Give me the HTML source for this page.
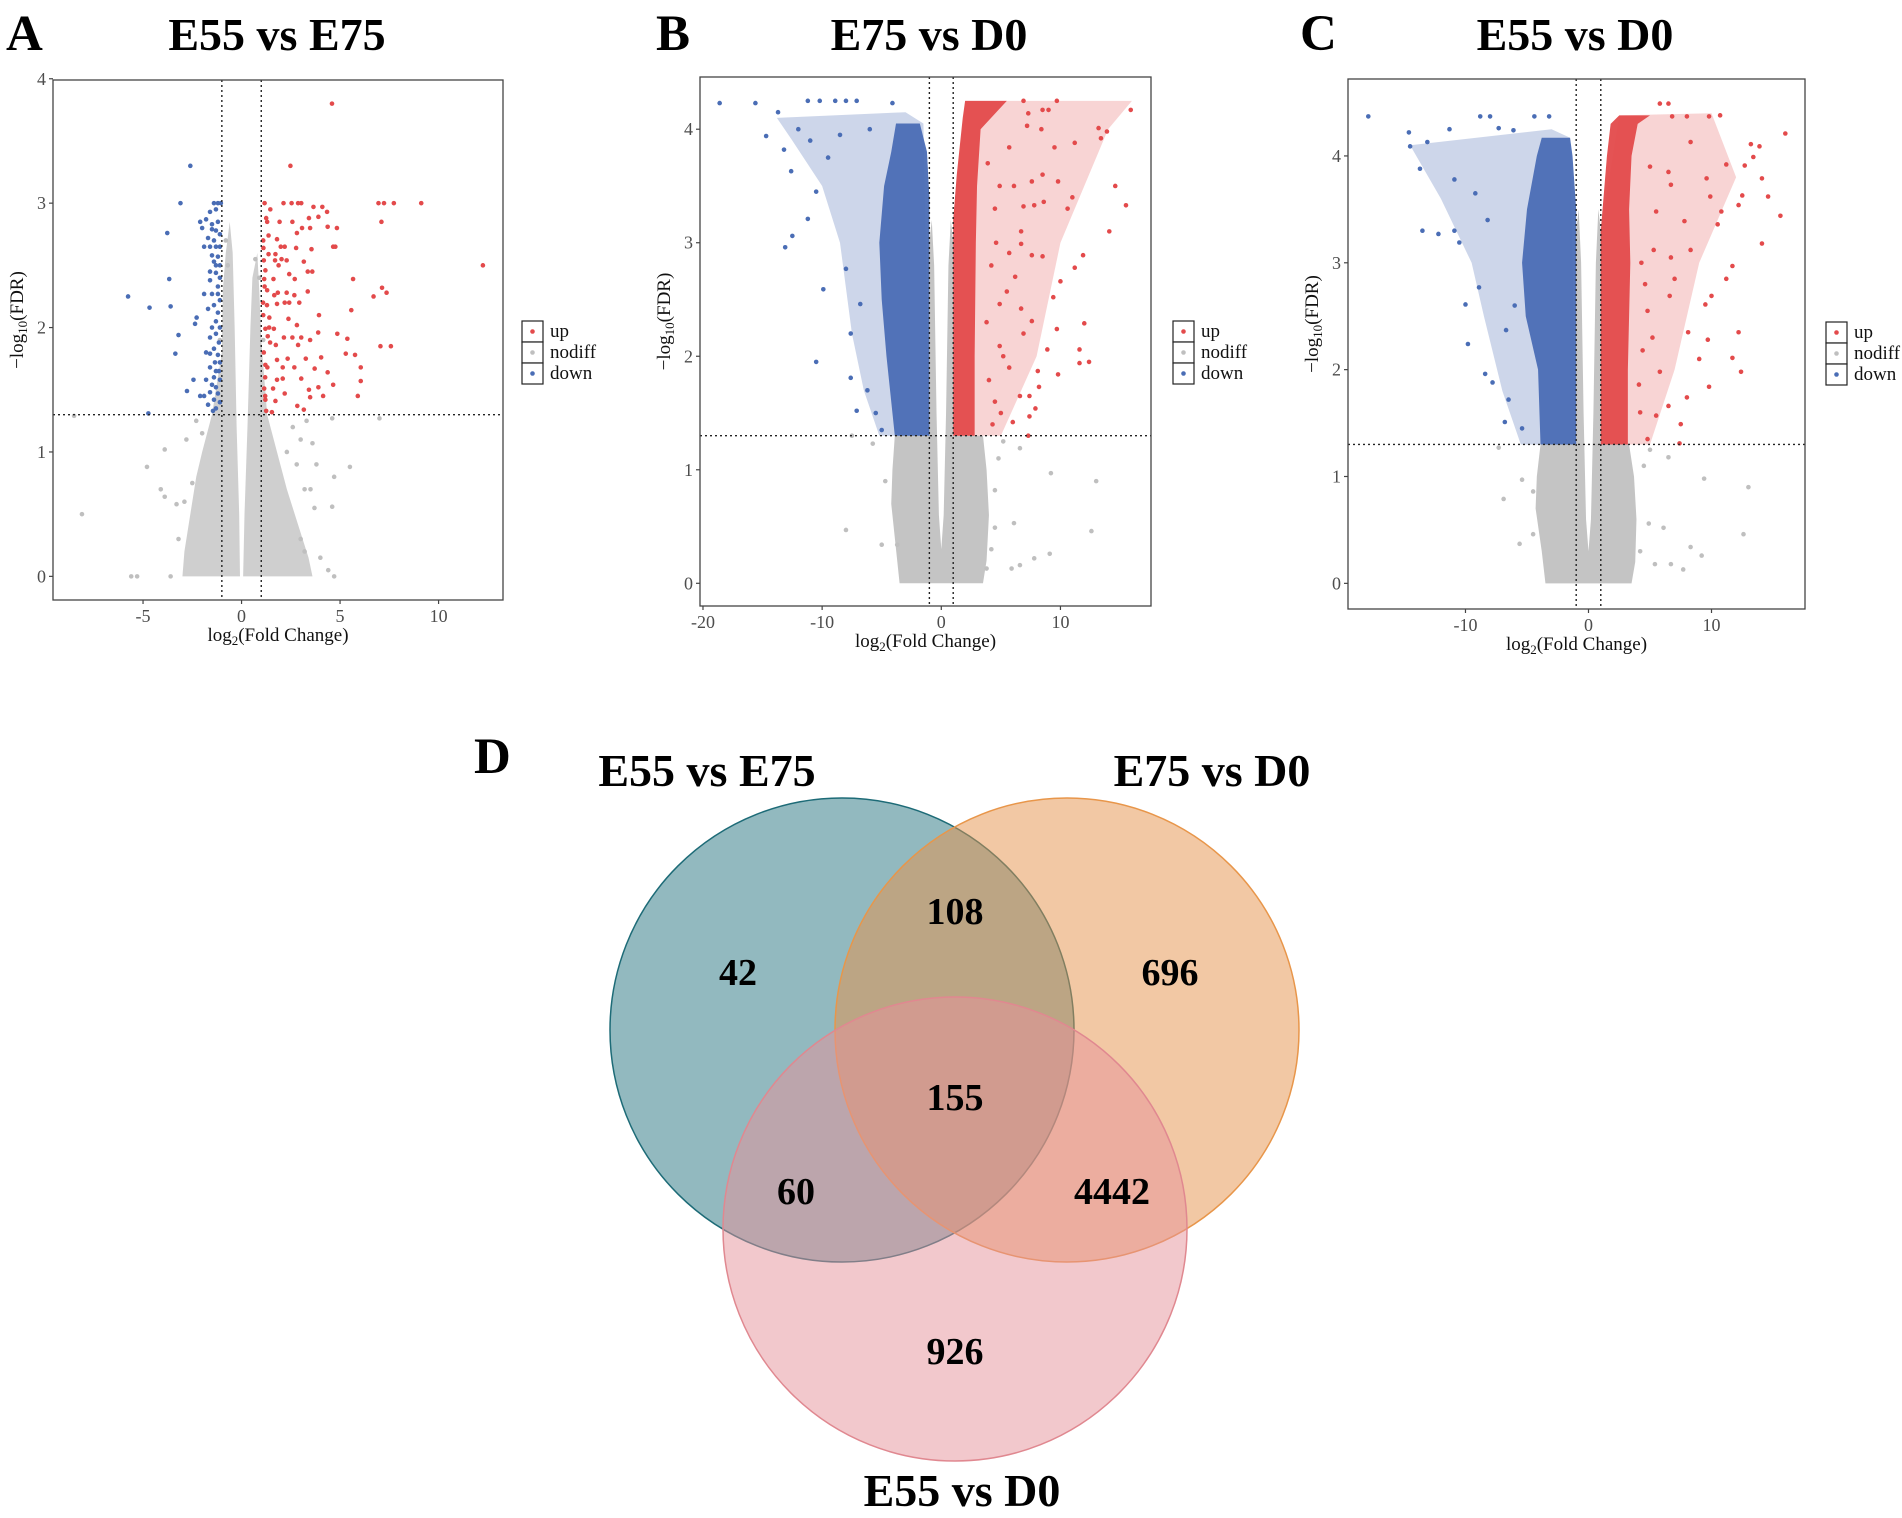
<!DOCTYPE html>
<html><head><meta charset="utf-8">
<style>
html,body{margin:0;padding:0;background:#fff;}
svg{display:block;font-family:"Liberation Serif",serif;}
</style></head>
<body>
<svg id="fig" width="1902" height="1518" viewBox="0 0 1902 1518" xmlns="http://www.w3.org/2000/svg">
<g id="venn"></g>
</svg>
<script>
// ===== Panel A data (E55 vs E75) =====
const aUp = [[4.59,3.80],[2.48,3.30],[1.17,3.0],[2.13,3.0],[2.54,3.0],[2.87,3.0],[3.03,3.0],[6.95,3.0],[7.23,3.0],[7.73,3.0],[9.12,3.0],[1.46,2.95],[3.65,2.97],[4.1,2.97],[4.34,2.93],[1.25,2.88],[3.42,2.88],[3.9,2.89],[1.93,2.85],[2.58,2.85],[7.1,2.85],[3.07,2.8],[3.48,2.8],[4.37,2.81],[4.84,2.8],[1.37,2.74],[2.81,2.76],[1.8,2.71],[1.11,2.64],[1.99,2.65],[2.19,2.65],[2.77,2.64],[3.55,2.63],[4.65,2.65],[4.76,2.65],[1.37,2.59],[1.72,2.59],[1.7,2.54],[2.03,2.55],[2.29,2.54],[3.16,2.53],[1.13,2.54],[1.21,2.46],[1.88,2.5],[2.42,2.43],[3.36,2.45],[3.59,2.45],[12.25,2.5],[1.15,2.39],[1.62,2.39],[2.7,2.39],[5.66,2.39],[1.17,2.33],[1.66,2.26],[1.84,2.28],[2.29,2.28],[2.68,2.26],[3.36,2.29],[7.13,2.32],[7.36,2.28],[6.7,2.25],[1.09,2.2],[1.29,2.18],[1.8,2.19],[2.19,2.2],[2.42,2.2],[2.93,2.2],[5.57,2.14],[1.41,2.08],[2.38,2.07],[3.93,2.1],[1.21,1.99],[1.64,1.99],[2.81,2.02],[1.33,1.93],[1.74,1.86],[2.15,1.92],[2.58,1.92],[3.03,1.92],[3.48,1.9],[3.89,1.96],[4.86,1.95],[5.37,1.91],[7.05,1.85],[7.58,1.85],[1.13,1.8],[1.8,1.74],[2.34,1.75],[2.87,1.86],[3.26,1.75],[4.04,1.76],[5.29,1.79],[5.76,1.78],[1.21,1.70],[1.31,1.68],[2.09,1.68],[2.68,1.68],[3.71,1.67],[6.05,1.68],[1.8,1.58],[2.09,1.59],[3.03,1.59],[4.37,1.64],[6.05,1.57],[1.15,1.51],[1.6,1.51],[2.19,1.47],[3.42,1.5],[3.9,1.52],[4.65,1.54],[1.21,1.42],[1.72,1.41],[2.83,1.37],[3.48,1.44],[4.14,1.45],[5.9,1.45],[1.25,1.33],[1.54,1.32],[3.16,1.34],[1.1,2.1],[1.3,2.3],[1.4,2.0],[1.2,1.6],[1.45,1.88],[1.1,2.7],[1.3,2.85],[1.2,1.45]];
const aDown = [[-2.6,3.3],[-3.1,3.0],[-3.77,2.76],[-3.67,2.39],[-5.76,2.25],[-4.67,2.16],[-3.6,2.17],[-2.28,2.08],[-2.36,2.03],[-3.2,1.94],[-3.36,1.79],[-2.44,1.58],[-2.77,1.49],[-4.73,1.31],[-1.4,3.0],[-1.2,3.0],[-1.05,3.0],[-1.3,2.95],[-1.6,2.93],[-2.1,2.85],[-1.8,2.87],[-1.5,2.83],[-1.2,2.85],[-2.0,2.8],[-1.5,2.79],[-1.3,2.78],[-1.1,2.75],[-1.7,2.72],[-1.4,2.7],[-1.9,2.65],[-1.6,2.65],[-1.3,2.65],[-1.1,2.65],[-1.5,2.58],[-1.2,2.57],[-1.4,2.53],[-1.3,2.5],[-1.1,2.5],[-1.6,2.45],[-1.3,2.44],[-1.1,2.4],[-1.6,2.38],[-1.2,2.33],[-1.9,2.27],[-1.5,2.27],[-1.2,2.27],[-1.1,2.22],[-1.4,2.18],[-1.7,2.15],[-1.2,2.12],[-1.3,2.05],[-1.5,2.0],[-1.1,2.0],[-1.3,1.95],[-1.6,1.92],[-1.15,1.88],[-1.4,1.83],[-1.8,1.8],[-1.6,1.79],[-1.2,1.78],[-1.35,1.72],[-1.1,1.72],[-1.6,1.68],[-1.3,1.65],[-1.15,1.65],[-1.8,1.58],[-1.4,1.6],[-1.1,1.58],[-1.5,1.54],[-1.3,1.52],[-1.6,1.48],[-1.2,1.47],[-1.9,1.45],[-2.1,1.45],[-1.4,1.42],[-1.1,1.4],[-1.7,1.38],[-1.3,1.35],[-1.45,1.33]];
const aGray = [[-8.1,0.5],[-3.9,1.02],[-4.8,0.88],[-4.1,0.7],[-3.9,0.64],[-5.6,0],[-5.3,0],[-3.6,0],[4.6,1.27],[5.5,0.88],[4.7,0.8],[4.6,0.56],[4.4,0.05],[4.7,0],[7.0,1.27],[-8.5,1.29],[2.3,1.0],[3.0,1.1],[3.6,1.07],[3.8,0.9],[3.2,0.7],[3.5,0.7],[3.7,0.55],[3.0,0.3],[3.2,0.2],[4.0,0.15],[-2.8,1.1],[-2.9,0.6],[-3.2,0.3],[-2.5,0.75],[-3.3,0.58],[2.6,1.2],[3.3,1.25],[2.8,0.9],[-2.3,1.25],[-2.0,1.15],[-0.8,2.7],[-0.7,2.5],[0.7,2.55],[0.9,2.4],[-1.1,1.9],[1.1,1.9]];
const aGrayEnvLeft = [[-3.0,0],[-2.9,0.2],[-2.6,0.5],[-2.3,0.8],[-2.0,1.0],[-1.5,1.3],[-1.0,1.8],[-0.95,2.3],[-0.8,2.6],[-0.6,2.85],[-0.45,2.6],[-0.35,2.0],[-0.25,1.2],[-0.12,0.5],[-0.08,0]];
const aGrayEnvRight = [[0.08,0],[0.15,0.5],[0.3,1.2],[0.45,2.0],[0.55,2.4],[0.8,2.6],[0.9,2.3],[1.0,1.9],[1.3,1.3],[1.8,1.0],[2.3,0.7],[2.9,0.4],[3.4,0.15],[3.6,0]];
const aXTicks = [-5,0,5,10];
const aYTicks = [0,1,2,3,4];

// ===== Panel B data (E75 vs D0) =====
const bUp = [[9.7,4.25],[15.9,4.17],[15.5,3.33],[14.6,3.5],[14.1,3.1],[13.2,4.01],[13.9,3.98],[13.4,3.92],[11.2,3.88],[9.5,3.84],[11.9,2.89],[11.2,2.78],[12.0,2.29],[11.6,2.06],[12.4,1.95],[11.6,1.94],[9.8,1.84],[8.9,2.06],[9.7,2.24],[9.4,2.52],[10.0,2.66],[10.6,3.3],[11.0,3.4],[9.8,3.54],[8.5,3.6],[7.4,1.65],[7.9,1.54],[7.4,1.47],[6.6,1.65],[6.0,1.42],[8.2,1.73],[7.6,2.31],[6.9,2.2],[8.1,1.87],[5.7,1.9],[7.6,2.89],[8.5,2.88],[6.7,2.99],[8.6,3.36],[7.8,3.33],[6.7,3.1],[5.7,2.91],[5.5,2.57],[6.7,2.42],[4.9,2.46],[4.9,2.09],[4.0,1.79],[4.5,1.6],[7.3,4.14],[6.9,4.25],[8.5,4.17],[9.0,4.17],[8.4,4.0],[7.2,4.03],[5.7,3.84],[4.9,3.5],[6.1,3.5],[7.6,3.54],[6.9,3.32],[4.2,2.8],[4.6,3.0],[3.8,2.3],[4.3,1.4],[5.2,2.0],[3.9,3.7],[4.5,3.3],[6.2,2.7],[5.0,1.5],[7.3,1.3]];
const bDown = [[-18.6,4.23],[-15.6,4.23],[-14.7,3.94],[-13.7,4.15],[-13.2,3.82],[-13.1,2.96],[-12.5,3.06],[-12.6,3.63],[-9.9,2.59],[-10.5,1.95],[-7.6,1.81],[-7.1,1.52],[-11.2,4.25],[-10.2,4.25],[-8.9,4.25],[-8.0,4.25],[-7.1,4.25],[-4.1,4.23],[-11.2,3.21],[-10.5,3.45],[-8.0,2.77],[-7.6,2.2],[-6.8,2.46],[-12.0,4.0],[-11.0,3.9],[-9.5,3.75],[-8.5,3.95],[-6.0,4.0],[-5.5,1.5],[-6.2,1.7],[-5.0,1.35]];
const bGray = [[13.0,0.9],[12.6,0.46],[9.2,0.97],[9.1,0.26],[7.8,0.22],[6.6,0.16],[5.9,0.13],[6.1,0.53],[6.6,1.19],[4.5,0.82],[4.5,0.49],[3.8,0.13],[-8.0,0.47],[-5.0,0.34],[-3.7,0.34],[-5.75,1.23],[-7.5,1.3],[-4.7,0.9],[4.8,1.1],[5.2,1.25],[4.2,0.3]];
const bDownDense = [[-1,1.3],[-3.9,1.3],[-4.6,2.0],[-5.0,2.5],[-5.2,3.0],[-4.8,3.5],[-4.2,3.8],[-3.8,4.05],[-1.8,4.05],[-1.2,3.8],[-1,3.4]];
const bDownSparse = [[-1,1.3],[-5.2,1.3],[-6.5,1.7],[-7.5,2.2],[-8.5,3.0],[-10,3.5],[-12.5,3.9],[-13.8,4.1],[-3,4.15],[-1.5,4.05]];
const bUpDense = [[1,1.3],[2.8,1.3],[2.8,2.0],[2.9,3.0],[3.0,3.5],[3.3,4.0],[5.5,4.25],[2.0,4.25],[1.8,4.1],[1.3,3.6],[1,3.2]];
const bUpSparse = [[1,1.3],[5.0,1.3],[8.0,2.0],[10,3.0],[14,4.0],[16,4.25],[2.0,4.25],[1,3.2]];
const bGrayEnv = [[-3.5,0],[-3.8,0.3],[-4.2,0.7],[-4.1,1.0],[-3.9,1.3],[-1,1.3],[-1,3.0],[-0.8,3.2],[-0.6,2.8],[-0.4,1.5],[-0.2,0.6],[0,0.3],[0.2,0.6],[0.4,1.5],[0.6,2.8],[0.8,3.2],[1,3.0],[1,1.3],[3.5,1.3],[3.8,1.0],[4.0,0.6],[3.8,0.2],[3.5,0]];
const bXTicks = [-20,-10,0,10];
const bYTicks = [0,1,2,3,4];

// ===== Panel C data (E55 vs D0) =====
const cUp = [[16.0,4.21],[15.6,3.44],[14.6,3.62],[14.1,3.79],[14.1,3.18],[13.9,4.09],[13.2,4.11],[13.4,3.99],[12.7,3.91],[12.2,3.54],[12.5,3.63],[11.7,2.97],[11.2,2.85],[12.2,2.35],[11.7,2.11],[12.4,1.98],[9.8,1.84],[9.7,2.28],[10.0,2.69],[9.5,2.61],[10.5,3.36],[10.8,3.48],[9.9,3.62],[9.6,3.79],[11.2,3.92],[10.7,4.38],[9.8,4.37],[8.0,4.37],[6.8,4.37],[5.8,4.49],[6.5,4.49],[8.3,4.13],[7.4,1.31],[7.5,1.49],[6.5,1.66],[8.0,1.74],[9.0,2.1],[8.1,2.35],[6.6,2.69],[7.0,2.85],[8.3,3.12],[6.7,3.05],[7.8,3.39],[6.7,3.73],[6.5,3.85],[5.5,3.48],[5.3,3.12],[4.8,2.55],[4.4,2.18],[4.1,1.86],[5.8,1.98],[5.5,1.57],[4.8,1.35],[4.3,3.0],[4.6,2.8],[5.0,3.9],[4.2,1.6],[5.2,2.3]];
const cDown = [[-17.9,4.37],[-14.6,4.22],[-13.7,3.88],[-13.5,3.3],[-12.2,3.27],[-10.9,3.3],[-10.5,3.19],[-10.0,2.61],[-9.8,2.24],[-8.4,1.96],[-7.8,1.88],[-8.9,2.77],[-8.8,4.37],[-8.0,4.37],[-4.4,4.37],[-3.2,4.37],[-11.3,4.25],[-13.1,4.13],[-14.5,4.09],[-10.9,3.78],[-9.2,3.65],[-8.2,3.4],[-7.3,4.26],[-6.1,4.24],[-6.8,1.51],[-5.4,1.45],[-6.5,1.72],[-6.7,2.37],[-6.0,2.6]];
const cGray = [[13.0,0.9],[12.6,0.46],[9.4,0.98],[9.2,0.26],[8.3,0.34],[7.7,0.13],[6.1,0.52],[6.5,1.18],[6.7,0.18],[5.4,0.18],[4.9,0.56],[-6.9,0.79],[-5.6,0.37],[-5.4,0.97],[-4.5,0.86],[-7.3,1.27],[-4.5,0.46],[4.5,1.1],[5.0,1.25],[4.2,0.3]];
const cDownDense = [[-1,1.3],[-3.9,1.3],[-4.1,2.0],[-5.1,2.5],[-5.4,3.0],[-5.0,3.5],[-4.2,4.0],[-3.8,4.17],[-1.5,4.17],[-1.3,4.0],[-1,3.5]];
const cDownSparse = [[-1,1.3],[-5.5,1.3],[-7,1.8],[-8.5,2.5],[-9.5,3.0],[-12,3.6],[-14.5,4.1],[-3,4.25],[-1.5,4.17]];
const cUpDense = [[1,1.3],[3.2,1.3],[3.2,2.0],[3.4,3.0],[3.3,3.5],[3.5,4.0],[4.0,4.3],[5.0,4.38],[2.5,4.38],[1.8,4.3],[1.5,4.0],[1,3.3]];
const cUpSparse = [[1,1.3],[5.0,1.3],[7,2.0],[9,3.0],[12,3.8],[10,4.4],[2.5,4.38],[1,3.3]];
const cGrayEnv = [[-3.5,0],[-3.8,0.3],[-4.3,0.7],[-4.2,1.0],[-3.9,1.3],[-1,1.3],[-1,3.3],[-0.8,3.5],[-0.6,3.0],[-0.4,1.6],[-0.2,0.6],[0,0.3],[0.2,0.6],[0.4,1.6],[0.6,3.0],[0.8,3.5],[1,3.3],[1,1.3],[3.3,1.3],[3.7,1.0],[3.9,0.6],[3.8,0.2],[3.5,0]];
const cXTicks = [-10,0,10];
const cYTicks = [0,1,2,3,4];

// ===== Venn data =====
const vennSets = ["E55 vs E75","E75 vs D0","E55 vs D0"];
const vennRegions = ["only-e55-e75","e55e75-e75d0","only-e75-d0","all-three","e55e75-e55d0","e75d0-e55d0","only-e55-d0"];
const vennCounts = [42,108,696,155,60,4442,926];

const NS = "http://www.w3.org/2000/svg";
const svg = document.getElementById('fig');
function mk(tag, attrs, parent){const e=document.createElementNS(NS,tag);for(const k in attrs)e.setAttribute(k,attrs[k]);(parent||svg).appendChild(e);return e;}

const RED="#e34a4b", BLUE="#4a6db5", GRAY="#bfbfbf";

function panel(cfg){
  const g = mk('g',{});
  
  
  const [L,T,R,B] = cfg.box;
  const sx = v => L + (v - cfg.xmin)/(cfg.xmax-cfg.xmin)*(R-L);
  const sy = v => B - (v - cfg.ymin)/(cfg.ymax-cfg.ymin)*(B-T);
  const clipId = 'clip'+cfg.key;
  const cp = mk('clipPath',{id:clipId},g); mk('rect',{x:L,y:T,width:R-L,height:B-T},cp);
  const pg = mk('g',{'clip-path':'url(#'+clipId+')'},g);
  
  
  function poly(arr,color,op,name){
    const p = mk('polygon',{points:arr.map(d=>sx(d[0])+','+sy(d[1])).join(' '),fill:color,'fill-opacity':op},pg);
    
    
  }
  function pts(arr,color,name){
    const gg = mk('g',{fill:color},pg);
    
    
    arr.forEach(d=>{
      const c = mk('circle',{cx:sx(d[0]),cy:sy(d[1]),r:2.3},gg);
      
      
    });
  }
  cfg.grayEnv.forEach(e=>poly(e,GRAY,cfg.grayOp,'nodiff-cloud'));
  pts(cfg.gray,GRAY,'nodiff-points');
  if(cfg.downSparse) poly(cfg.downSparse,BLUE,0.28,'down-sparse-region');
  if(cfg.upSparse) poly(cfg.upSparse,RED,0.24,'up-sparse-region');
  if(cfg.downDense) poly(cfg.downDense,BLUE,0.95,'down-dense-region');
  if(cfg.upDense) poly(cfg.upDense,RED,0.95,'up-dense-region');
  pts(cfg.down,BLUE,'down-points');
  pts(cfg.up,RED,'up-points');
  const dl = {stroke:'#222','stroke-width':1.4,'stroke-dasharray':'2,3'};
  let l;
  l = mk('line',Object.assign({x1:sx(-1),x2:sx(-1),y1:T,y2:B},dl),g);  
  l = mk('line',Object.assign({x1:sx(1),x2:sx(1),y1:T,y2:B},dl),g);  
  l = mk('line',Object.assign({x1:L,x2:R,y1:sy(1.3),y2:sy(1.3)},dl),g);  
  const box = mk('rect',{x:L,y:T,width:R-L,height:B-T,fill:'none',stroke:'#444','stroke-width':1.3},g);
   
  cfg.xt.forEach(v=>{
    mk('line',{x1:sx(v),x2:sx(v),y1:B,y2:B+4,stroke:'#444','stroke-width':1.2},g);
    const t = mk('text',{x:sx(v),y:B+22,'text-anchor':'middle','font-size':18,fill:'#4d4d4d'},g);
    t.textContent = v<0 ? '-'+Math.abs(v) : String(v);
     
  });
  cfg.yt.forEach(v=>{
    mk('line',{x1:L-4,x2:L,y1:sy(v),y2:sy(v),stroke:'#444','stroke-width':1.2},g);
    const t = mk('text',{x:L-7,y:sy(v)+6,'text-anchor':'end','font-size':18,fill:'#4d4d4d'},g);
    t.textContent = String(v);
     
  });
  const xt = mk('text',{x:(L+R)/2,y:B+41,'text-anchor':'middle','font-size':19,fill:'#111'},g);
  xt.innerHTML = 'log<tspan font-size="13" dy="4">2</tspan><tspan dy="-4">(Fold Change)</tspan>';
   
  const yc = (T+B)/2 - 20;
  const yt = mk('text',{x:0,y:0,'text-anchor':'middle','font-size':19,fill:'#111',transform:'translate('+(L-30)+','+yc+') rotate(-90)'},g);
  yt.innerHTML = '\u2212log<tspan font-size="13" dy="4">10</tspan><tspan dy="-4">(FDR)</tspan>';
   
  const lg = mk('g',{},g);
   
  const lx = cfg.leg[0], ly = cfg.leg[1];
  [['up',RED],['nodiff',GRAY],['down',BLUE]].forEach((e,i)=>{
    const eg = mk('g',{},lg);
     
    mk('rect',{x:lx,y:ly+i*21,width:21,height:21,fill:'#fff',stroke:'#222','stroke-width':1.2},eg);
    mk('circle',{cx:lx+10.5,cy:ly+i*21+10.5,r:2.3,fill:e[1]},eg);
    const t = mk('text',{x:lx+28,y:ly+i*21+16,'font-size':19,fill:'#111'},eg);
    t.textContent = e[0];
  });
  const tt = mk('text',{x:cfg.tx,y:50,'text-anchor':'middle','font-size':46,'font-weight':'bold',fill:'#000'},g);
  tt.textContent = cfg.title;
   
  const lt = mk('text',{x:cfg.lx,y:50,'font-size':51,'font-weight':'bold',fill:'#000'},g);
  lt.textContent = cfg.letter;
   
}

panel({key:'a',box:[53,80,503,600],xmin:-9.57,xmax:13.27,ymin:-0.19,ymax:3.99,grayOp:0.75,
  up:aUp,down:aDown,gray:aGray,grayEnv:[aGrayEnvLeft,aGrayEnvRight],xt:aXTicks,yt:aYTicks,
  leg:[522,321],tx:277,title:'E55 vs E75',lx:6,letter:'A'});
panel({key:'b',box:[700,77,1151,606],xmin:-20.25,xmax:17.6,ymin:-0.2,ymax:4.46,grayOp:0.92,
  up:bUp,down:bDown,gray:bGray,grayEnv:[bGrayEnv],downDense:bDownDense,downSparse:bDownSparse,upDense:bUpDense,upSparse:bUpSparse,
  xt:bXTicks,yt:bYTicks,leg:[1173,321],tx:929,title:'E75 vs D0',lx:656,letter:'B'});
panel({key:'c',box:[1348,79,1805,609],xmin:-19.55,xmax:17.6,ymin:-0.24,ymax:4.72,grayOp:0.92,
  up:cUp,down:cDown,gray:cGray,grayEnv:[cGrayEnv],downDense:cDownDense,downSparse:cDownSparse,upDense:cUpDense,upSparse:cUpSparse,
  xt:cXTicks,yt:cYTicks,leg:[1826,322],tx:1575,title:'E55 vs D0',lx:1300,letter:'C'});

// ===== Venn =====
const vg = document.getElementById('venn');
const circles = [
  {cx:842,cy:1030,fill:'#25737f',stroke:'#1d6b77'},
  {cx:1067,cy:1030,fill:'#e59149',stroke:'#e8964a'},
  {cx:955,cy:1229,fill:'#e59199',stroke:'#e08890'}];
const cnames = ['circle-e55-vs-e75','circle-e75-vs-d0','circle-e55-vs-d0'];
circles.forEach((c,i)=>{
  const e = mk('circle',{cx:c.cx,cy:c.cy,r:232,fill:c.fill,'fill-opacity':0.5,stroke:c.stroke,'stroke-width':1.5},vg);
  
  
});
const setPos = [[707,786],[1212,786],[962,1506]];
vennSets.forEach((s,i)=>{
  const t = mk('text',{x:setPos[i][0],y:setPos[i][1],'text-anchor':'middle','font-size':46,'font-weight':'bold',fill:'#000'},vg);
  t.textContent = s;
  
  
});
const regPos = [[738,972],[955,911],[1170,972],[955,1097],[796,1191],[1112,1191],[955,1351]];
vennCounts.forEach((n,i)=>{
  const t = mk('text',{x:regPos[i][0],y:regPos[i][1]+13,'text-anchor':'middle','font-size':38,'font-weight':'bold',fill:'#000'},vg);
  t.textContent = String(n);
  
  
});
const dl = mk('text',{x:474,y:773,'font-size':51,'font-weight':'bold',fill:'#000'},vg);
dl.textContent='D';


</script>
</body></html>
